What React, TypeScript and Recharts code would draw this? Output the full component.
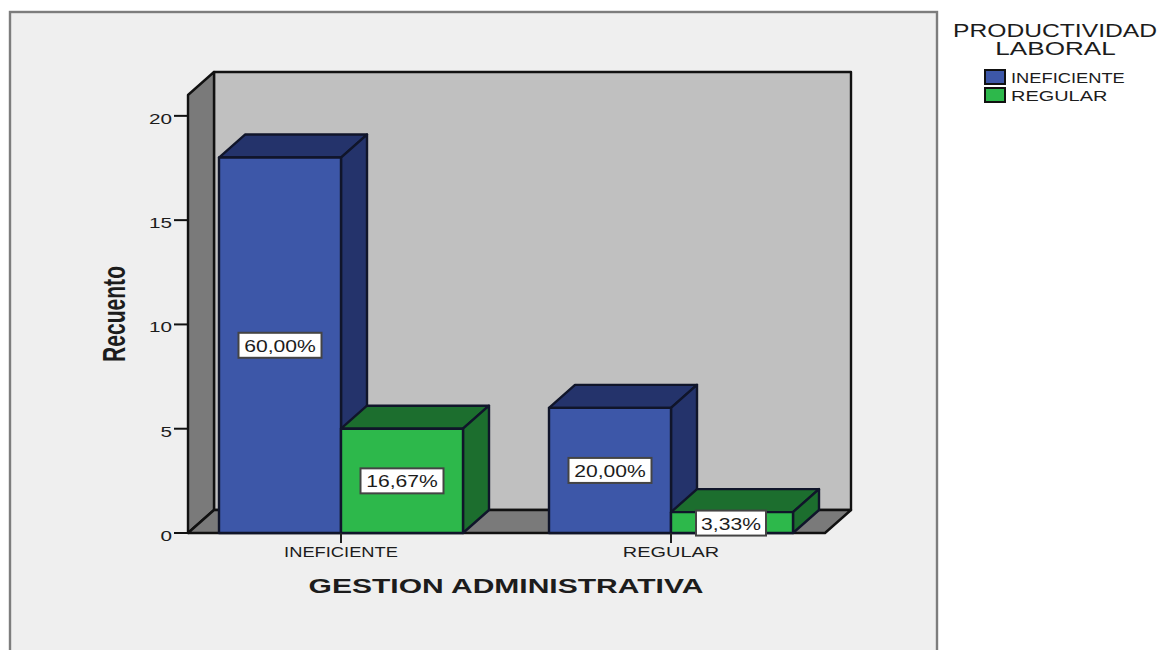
import React from "react";
import {
  BarChart,
  Bar,
  XAxis,
  YAxis,
  Legend,
  LabelList,
  Label,
  usePlotArea,
} from "recharts";

// Survey counts, grouped by management rating
const categories = ["INEFICIENTE", "REGULAR"];
const ineficiente = [18, 6];
const regular = [5, 1];
const percentIneficiente = ["60,00%", "20,00%"];
const percentRegular = ["16,67%", "3,33%"];
const valueTicks = [0, 5, 10, 15, 20];

const rows = categories.map((name, i) => ({
  name,
  ineficiente: ineficiente[i],
  regular: regular[i],
}));

const FONT = "'Liberation Sans', Arial, sans-serif";
const INK = "#1c1c1c";
const DEPTH_X = 26;
const DEPTH_Y = 23;
// Horizontal stretch per category word
const WORD_STRETCH: Record<string, number> = { INEFICIENTE: 1.22, REGULAR: 1.33 };

// Text drawn wider than its natural proportions, as the statistics package exports it
function WideText({ x, y, size, sx = 1, anchor = "middle", weight = "normal", rotate = 0, children }: any) {
  return (
    <text
      transform={`translate(${x},${y}) rotate(${rotate}) scale(${sx},1)`}
      textAnchor={anchor}
      fontFamily={FONT}
      fontSize={size}
      fontWeight={weight}
      fill={INK}
    >
      {children}
    </text>
  );
}

// Page frame plus the three walls of the 3D plotting box
function Room() {
  const plot = usePlotArea();
  if (!plot) return null;
  const left = plot.x + 12;
  const right = plot.x + plot.width - 11;
  const top = plot.y;
  const bottom = plot.y + plot.height;
  const line = { stroke: "#111", strokeWidth: 2.4, strokeLinejoin: "round" as const };
  return (
    <g>
      <rect x={10} y={12} width={927} height={700} fill="#efefef" stroke="#7d7d7d" strokeWidth={2.4} />
      <rect x={left + DEPTH_X} y={top - DEPTH_Y} width={right - left} height={bottom - top} fill="#c0c0c0" {...line} />
      <polygon
        points={`${left},${top} ${left + DEPTH_X},${top - DEPTH_Y} ${left + DEPTH_X},${bottom - DEPTH_Y} ${left},${bottom}`}
        fill="#7a7a7a"
        {...line}
      />
      <polygon
        points={`${left},${bottom} ${right},${bottom} ${right + DEPTH_X},${bottom - DEPTH_Y} ${left + DEPTH_X},${bottom - DEPTH_Y}`}
        fill="#7a7a7a"
        {...line}
      />
    </g>
  );
}

// Extruded bar: front face, top face and right side
function Box({ x, y, width, height, front, shade }: any) {
  const line = { stroke: "#10152a", strokeWidth: 2.4, strokeLinejoin: "round" as const };
  return (
    <g>
      <polygon
        points={`${x},${y} ${x + DEPTH_X},${y - DEPTH_Y} ${x + width + DEPTH_X},${y - DEPTH_Y} ${x + width},${y}`}
        fill={shade}
        {...line}
      />
      <polygon
        points={`${x + width},${y} ${x + width + DEPTH_X},${y - DEPTH_Y} ${x + width + DEPTH_X},${y + height - DEPTH_Y} ${x + width},${y + height}`}
        fill={shade}
        {...line}
      />
      <rect x={x} y={y} width={width} height={height} fill={front} {...line} />
    </g>
  );
}

// White tag with the share of the total, centred on the bar's front face
function percentTag(texts: string[]) {
  return ({ x, y, width, height, index }: any) => {
    const text = texts[index];
    const boxW = text.length > 5 ? 83 : 70;
    const boxH = 25;
    const cx = x + width / 2 + (text.length > 5 ? 0 : -1);
    const cy = y + height / 2 + (text.length > 5 ? 0 : 0.5);
    return (
      <g>
        <rect
          x={cx - boxW / 2}
          y={cy - boxH / 2}
          width={boxW}
          height={boxH}
          fill="#ffffff"
          stroke="#444"
          strokeWidth={2}
        />
        <WideText x={cx} y={cy + 6.5} size={16} sx={1.32}>
          {text}
        </WideText>
      </g>
    );
  };
}

function ValueTick({ x, y, payload }: any) {
  return (
    <g>
      <line x1={x - 2} x2={x + 12} y1={y} y2={y} stroke="#111" strokeWidth={2} />
      <WideText x={x - 4} y={y + 8} size={15} sx={1.38} anchor="end">
        {payload.value}
      </WideText>
    </g>
  );
}

function CategoryTick({ x, y, payload }: any) {
  return (
    <g>
      <line x1={x} x2={x} y1={y} y2={y + 10} stroke="#222" strokeWidth={2} />
      <WideText x={x} y={y + 24} size={15} sx={WORD_STRETCH[payload.value]}>
        {payload.value}
      </WideText>
    </g>
  );
}

// Legend with its two-line title and bordered swatches
function LegendBlock({ payload }: any) {
  return (
    <svg width={216} height={100} style={{ display: "block" }}>
      <WideText x={110} y={22} size={18} sx={1.37}>
        PRODUCTIVIDAD
      </WideText>
      <WideText x={110.5} y={40} size={18} sx={1.45}>
        LABORAL
      </WideText>
      {(payload || []).map((item: any, i: number) => (
        <g key={item.value}>
          <rect x={40} y={55 + i * 18} width={20} height={14} fill={item.color} stroke="#111" strokeWidth={2} />
          <WideText x={66} y={68 + i * 18} size={15} sx={WORD_STRETCH[item.value]} anchor="start">
            {item.value}
          </WideText>
        </g>
      ))}
    </svg>
  );
}

export default function App() {
  return (
    <div style={{ position: "absolute", left: 0, top: 0, width: 1161, height: 650, overflow: "hidden", background: "#fff" }}>
      <BarChart
        width={1161}
        height={650}
        data={rows}
        margin={{ top: 95, left: 175, right: 325, bottom: 116 }}
        barCategoryGap={43}
        barGap={0}
      >
        <Room />
        <XAxis
          dataKey="name"
          height={1}
          axisLine={false}
          tickLine={false}
          tickSize={0}
          tickMargin={0}
          interval={0}
          tick={<CategoryTick />}
        >
          <Label
            content={() => (
              <WideText x={506} y={593} size={21} sx={1.43} weight="bold">
                GESTION ADMINISTRATIVA
              </WideText>
            )}
          />
        </XAxis>
        <YAxis
          width={1}
          domain={[0, 21]}
          ticks={valueTicks}
          axisLine={false}
          tickLine={false}
          tickSize={0}
          tickMargin={0}
          interval={0}
          tick={<ValueTick />}
        >
          <Label
            content={() => (
              <WideText x={125} y={314} size={31} sx={0.68} rotate={-90} weight="bold">
                Recuento
              </WideText>
            )}
          />
        </YAxis>
        <Legend
          layout="vertical"
          align="center"
          verticalAlign="middle"
          content={<LegendBlock />}
          wrapperStyle={{ position: "absolute", left: 945, top: 15, width: 216, height: 100 }}
        />
        <Bar
          dataKey="ineficiente"
          name="INEFICIENTE"
          fill="#3d57a8"
          isAnimationActive={false}
          shape={<Box front="#3d57a8" shade="#24336b" />}
        >
          <LabelList content={percentTag(percentIneficiente)} />
        </Bar>
        <Bar
          dataKey="regular"
          name="REGULAR"
          fill="#2db84b"
          isAnimationActive={false}
          shape={<Box front="#2db84b" shade="#1c6e2e" />}
        >
          <LabelList content={percentTag(percentRegular)} />
        </Bar>
      </BarChart>
    </div>
  );
}
